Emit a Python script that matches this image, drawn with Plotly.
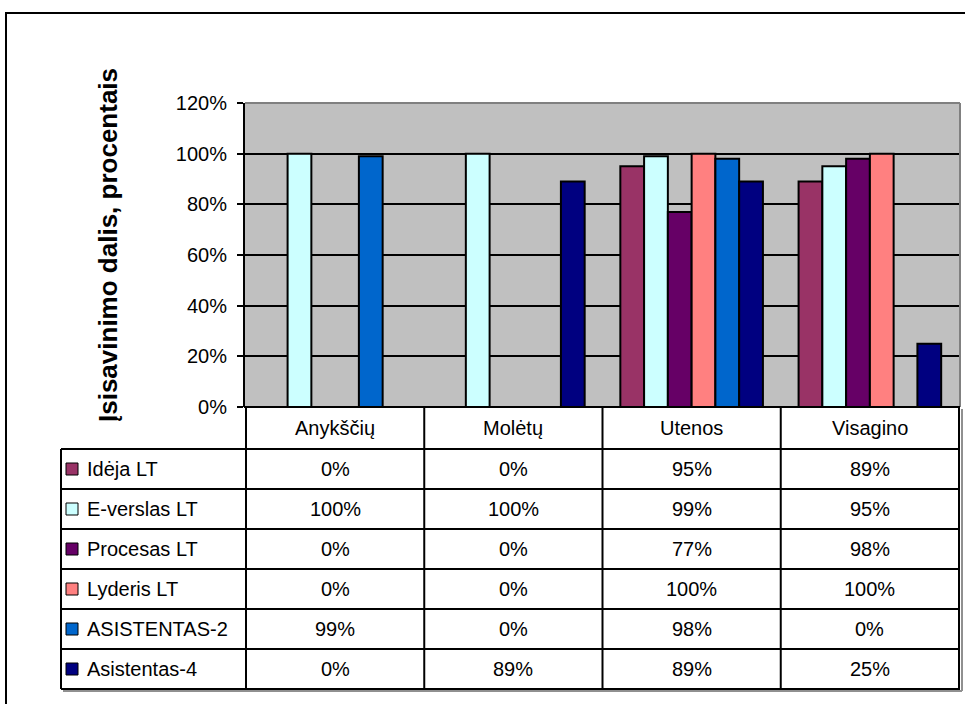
import plotly.graph_objects as go

# ---------------- data ----------------
categories = ["Anykščių", "Molėtų", "Utenos", "Visagino"]
series_names = ["Idėja LT", "E-verslas LT", "Procesas LT", "Lyderis LT", "ASISTENTAS-2", "Asistentas-4"]
ideja_lt = [0.00, 0.00, 0.95, 0.89]
e_verslas_lt = [1.00, 1.00, 0.99, 0.95]
procesas_lt = [0.00, 0.00, 0.77, 0.98]
lyderis_lt = [0.00, 0.00, 1.00, 1.00]
asistentas_2 = [0.99, 0.00, 0.98, 0.00]
asistentas_4 = [0.00, 0.89, 0.89, 0.25]
series_values = [ideja_lt, e_verslas_lt, procesas_lt, lyderis_lt, asistentas_2, asistentas_4]
colors = ["#993366", "#CCFFFF", "#660066", "#FF8080", "#0066CC", "#000080"]
y_title = "Įsisavinimo dalis, procentais"

# ---------------- layout helpers ----------------
W, H = 965, 704
FONT = "Arial, Liberation Sans, sans-serif"


def px(x):
    return x / W


def py(y):
    return 1 - y / H


PLOT_L, PLOT_R, PLOT_T, PLOT_B = 245, 960, 103, 407
TABLE_L = 61
HEADER_B = 449
ROW_H = 40

fig = go.Figure()
for name, vals, col in zip(series_names, series_values, colors):
    fig.add_trace(go.Bar(
        name=name, x=categories, y=vals,
        marker=dict(color=col, line=dict(color="black", width=2)),
        showlegend=False,
    ))

shapes = []
annotations = []

# outer chart border (extends beyond the visible page)
shapes.append(dict(type="rect", xref="paper", yref="paper",
                   x0=px(6), x1=px(990), y0=py(13), y1=py(740),
                   line=dict(color="black", width=2), fillcolor="rgba(0,0,0,0)"))

# plot-area border (grey top/right)
shapes.append(dict(type="line", xref="paper", yref="paper",
                   x0=px(PLOT_L), x1=px(PLOT_R), y0=py(PLOT_T), y1=py(PLOT_T),
                   line=dict(color="#808080", width=2)))
shapes.append(dict(type="line", xref="paper", yref="paper",
                   x0=px(PLOT_R), x1=px(PLOT_R), y0=py(PLOT_T), y1=py(PLOT_B),
                   line=dict(color="#808080", width=2)))

n_rows = len(series_names)
table_bottom = HEADER_B + ROW_H * n_rows

# table shadow
shapes.append(dict(type="line", xref="paper", yref="paper",
                   x0=px(PLOT_R + 2), x1=px(PLOT_R + 2), y0=py(PLOT_B + 2), y1=py(table_bottom + 2),
                   line=dict(color="#909090", width=2)))
shapes.append(dict(type="line", xref="paper", yref="paper",
                   x0=px(TABLE_L + 2), x1=px(PLOT_R + 2), y0=py(table_bottom + 2), y1=py(table_bottom + 2),
                   line=dict(color="#909090", width=2)))

# vertical table lines at category boundaries
n_cat = len(categories)
for i in range(n_cat + 1):
    shapes.append(dict(type="line", xref="x", yref="paper",
                       x0=i - 0.5, x1=i - 0.5, y0=py(PLOT_B), y1=py(table_bottom),
                       line=dict(color="black", width=2)))
# left edge of row-label column
shapes.append(dict(type="line", xref="paper", yref="paper",
                   x0=px(TABLE_L), x1=px(TABLE_L), y0=py(HEADER_B), y1=py(table_bottom),
                   line=dict(color="black", width=2)))
# horizontal table lines
for r in range(n_rows + 1):
    yy = HEADER_B + r * ROW_H
    shapes.append(dict(type="line", xref="paper", yref="paper",
                       x0=px(TABLE_L), x1=px(PLOT_R), y0=py(yy), y1=py(yy),
                       line=dict(color="black", width=2)))
# bottom axis line (top of header row)
shapes.append(dict(type="line", xref="paper", yref="paper",
                   x0=px(PLOT_L - 1), x1=px(PLOT_R), y0=py(PLOT_B), y1=py(PLOT_B),
                   line=dict(color="black", width=2)))

# category header labels
for c in categories:
    annotations.append(dict(x=c, xref="x", y=py((PLOT_B + HEADER_B) / 2), yref="paper",
                            text=c, showarrow=False, xanchor="center", yanchor="middle",
                            font=dict(family=FONT, size=20, color="black")))

# rows: legend key, label, values
for r, (name, vals, col) in enumerate(zip(series_names, series_values, colors)):
    yc = HEADER_B + r * ROW_H + ROW_H / 2
    shapes.append(dict(type="rect", xref="paper", yref="paper",
                       x0=px(66), x1=px(78), y0=py(yc - 6), y1=py(yc + 6),
                       fillcolor=col, line=dict(color="black", width=1)))
    annotations.append(dict(x=px(85), xref="paper", y=py(yc), yref="paper",
                            text=name, showarrow=False, xanchor="left", yanchor="middle",
                            font=dict(family=FONT, size=20, color="black")))
    for c, v in zip(categories, vals):
        annotations.append(dict(x=c, xref="x", y=py(yc), yref="paper",
                                text=f"{round(v * 100)}%", showarrow=False,
                                xanchor="center", yanchor="middle",
                                font=dict(family=FONT, size=20, color="black")))

# y axis title
annotations.append(dict(x=px(108), xref="paper", y=py(245), yref="paper",
                        text=f"<b>{y_title}</b>", showarrow=False, textangle=-90,
                        xanchor="center", yanchor="middle",
                        font=dict(family=FONT, size=26, color="black")))

fig.update_layout(
    width=W, height=H,
    margin=dict(l=0, r=0, t=0, b=0, pad=0),
    paper_bgcolor="white",
    plot_bgcolor="#C0C0C0",
    barmode="group",
    bargap=0.2,
    bargroupgap=0,
    shapes=shapes,
    annotations=annotations,
    xaxis=dict(domain=[px(PLOT_L), px(PLOT_R)], showticklabels=False, ticks="",
               showgrid=False, zeroline=False, showline=False, fixedrange=True,
               automargin=False),
    yaxis=dict(domain=[py(PLOT_B), py(PLOT_T)], range=[0, 1.2], dtick=0.2,
               tickformat=".0%", showgrid=True, gridcolor="black", gridwidth=2,
               zeroline=False, showline=True, linecolor="black", linewidth=2,
               ticks="outside", ticklen=6, tickwidth=2, tickcolor="black",
               tickfont=dict(family=FONT, size=20, color="black"),
               ticklabelstandoff=6, fixedrange=True, automargin=False),
    font=dict(family=FONT, color="black"),
)

fig.write_html(
    "out.html",
    config={"displayModeBar": False},
    post_script="document.body.style.margin='0';document.body.style.overflow='hidden';",
)
